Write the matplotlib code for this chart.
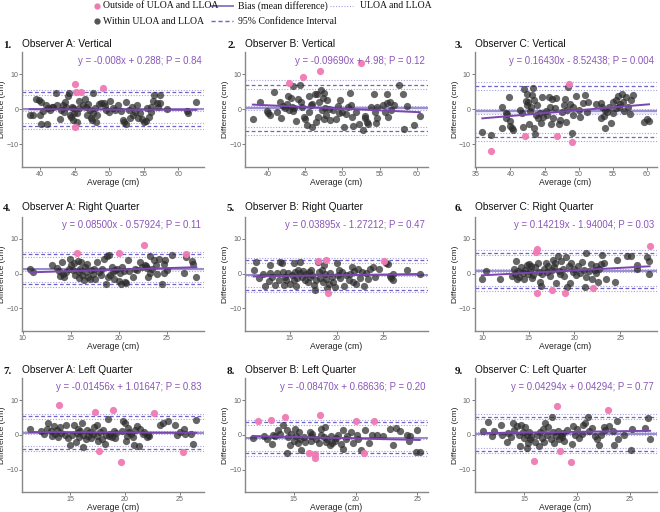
import matplotlib
matplotlib.use("Agg")
import matplotlib.pyplot as plt
from matplotlib.lines import Line2D
import numpy as np

# ---------------- data ----------------
titles = ["Observer A: Vertical", "Observer B: Vertical", "Observer C: Vertical",
          "Observer A: Right Quarter", "Observer B: Right Quarter", "Observer C: Right Quarter",
          "Observer A: Left Quarter", "Observer B: Left Quarter", "Observer C: Left Quarter"]
numbers = ["1.", "2.", "3.", "4.", "5.", "6.", "7.", "8.", "9."]
equations = ["y = -0.008x + 0.288; P = 0.84", "y = -0.09690x + 4.98; P = 0.12",
             "y = 0.16430x - 8.52438; P = 0.004", "y = 0.08500x - 0.57924; P = 0.11",
             "y = 0.03895x - 1.27212; P = 0.47", "y = 0.14219x - 1.94004; P = 0.03",
             "y = -0.01456x + 1.01647; P = 0.83", "y = -0.08470x + 0.68636; P = 0.20",
             "y = 0.04294x + 0.04294; P = 0.77"]
slopes = [-0.008, -0.09690, 0.16430, 0.08500, 0.03895, 0.14219, -0.01456, -0.08470, 0.04294]
intercepts = [0.288, 4.98, -8.52438, -0.57924, -1.27212, -1.94004, 1.01647, 0.68636, 0.04294]
bias = [-0.1, 0.3, -0.65, 1.2, -0.4, 0.85, 0.7, -0.85, 0.35]
bias_ci = [0.5, 0.6, 0.6, 0.45, 0.4, 0.45, 0.45, 0.4, 0.4]
uloa = [4.8, 7.0, 6.6, 5.5, 3.8, 6.0, 5.4, 3.6, 5.2]
lloa = [-4.8, -6.3, -7.9, -3.1, -4.6, -4.3, -4.0, -5.3, -4.5]
loa_ci = [0.8, 1.2, 1.2, 0.75, 0.7, 0.8, 0.75, 0.7, 0.75]

avg_1 = [38.5, 39.0, 39.4, 39.8, 40.0, 40.1, 40.2, 40.5, 40.8, 41.0, 41.1, 41.4, 41.7, 41.9, 42.3, 42.4,
         42.9, 43.1, 43.3, 43.4, 43.6, 43.8, 44.1, 44.2, 44.3, 44.5, 44.6, 44.7, 44.8, 44.9, 45.3, 45.4,
         45.6, 45.7, 46.2, 46.5, 46.6, 46.8, 47.0, 47.2, 47.3, 47.5, 47.6, 47.7, 48.0, 48.1, 48.3, 48.5,
         48.8, 49.2, 49.4, 49.6, 50.0, 50.1, 50.5, 50.8, 51.3, 51.7, 52.0, 52.1, 52.4, 52.5, 52.8, 53.0,
         53.3, 53.5, 53.7, 54.0, 54.2, 54.5, 54.7, 55.0, 55.3, 55.4, 55.8, 56.0, 56.1, 56.3, 56.5, 56.9,
         57.1, 57.3, 57.3, 58.3, 61.2, 61.4, 62.6]
diff_1 = [-1.8, -1.8, 2.8, 2.6, -1.8, 2.1, -4.1, -0.5, 1.1, -4.1, 0.2, -0.3, 0.7, 0.7, 4.7, 1.1,
          -2.7, -0.3, 1.1, -0.8, 2.1, 0.7, 3.7, 4.7, -1.7, -2.2, 0.7, 0.2, -3.1, -1.0, -1.2, -3.6,
          0.2, 2.4, 1.1, 3.0, 0.7, -1.7, 1.6, -0.3, -2.4, -3.0, -1.2, 4.7, 0.2, -3.6, -1.7, 1.6,
          1.8, 1.8, 0.9, -0.3, -0.8, 2.4, 0.2, -0.3, 1.3, -0.5, -3.1, -3.6, -4.1, 2.1, -0.3, -2.4,
          0.7, -1.7, -0.8, 1.1, -2.4, -1.2, -2.7, -3.6, -3.4, 0.2, -2.2, 0.7, -0.8, 2.3, 4.0, 1.8,
          0.7, 4.0, 1.8, 0.0, -0.5, -1.2, 2.1]
out_avg_1 = [45.1, 45.2, 45.1, 45.9, 49.1]
out_diff_1 = [7.3, 4.9, -5.2, 5.0, 5.9]

avg_2 = [38.0, 39.0, 39.9, 40.1, 40.3, 40.9, 41.2, 41.7, 41.8, 42.1, 42.3, 42.6, 42.7, 42.9, 43.1, 43.2,
         43.4, 43.4, 43.5, 43.8, 44.0, 44.3, 44.5, 44.6, 44.9, 45.0, 45.3, 45.5, 45.6, 45.8, 45.9, 46.0,
         46.4, 46.5, 46.6, 46.7, 46.9, 47.1, 47.3, 47.4, 47.5, 47.6, 47.7, 47.8, 48.0, 48.2, 48.4, 48.8,
         49.2, 49.4, 49.5, 49.7, 49.9, 50.2, 50.5, 50.8, 51.1, 51.2, 51.3, 51.5, 51.9, 52.2, 52.8, 53.0,
         53.1, 53.3, 53.4, 53.8, 54.3, 54.4, 54.5, 54.6, 54.7, 55.4, 55.7, 56.0, 56.0, 56.2, 56.4, 56.6,
         56.9, 57.6, 58.1, 58.3, 58.7, 59.6, 60.4]
diff_2 = [-2.7, 2.1, -0.5, -1.2, -1.7, 4.9, -0.8, 2.1, -2.4, 0.8, 0.2, 1.4, 3.7, -0.3, 3.3, 0.7,
          -0.5, 6.6, 0.2, -3.4, 3.0, 6.8, 2.1, 0.7, -2.2, -2.9, -4.5, 3.7, -0.8, 1.1, -5.2, 1.6,
          4.2, -3.6, 4.4, -2.2, 2.1, 5.4, -0.3, 3.3, -2.9, 4.6, 0.2, -1.7, 2.5, -0.1, -3.1, -0.3,
          -2.9, 0.8, -1.2, 2.7, -0.8, -5.0, -1.4, 0.7, 4.6, 1.3, -2.2, -4.8, -0.8, -4.1, -5.9, -2.6,
          -2.0, -3.6, -4.1, 0.7, 4.2, -0.8, -3.9, 0.7, -2.6, 1.1, -0.8, 4.2, 1.8, -2.2, 2.1, -0.3,
          1.1, 7.0, 4.2, -5.8, 1.0, -4.5, -1.9]
out_avg_2 = [42.8, 44.7, 47.0, 52.5]
out_diff_2 = [7.6, 9.1, 10.8, 13.1]

avg_3 = [35.9, 37.1, 38.8, 38.8, 39.3, 39.3, 39.5, 39.8, 39.9, 40.0, 40.2, 40.4, 41.4, 41.7, 41.9, 42.0,
         42.3, 42.4, 42.5, 42.6, 42.8, 42.9, 43.0, 43.1, 43.3, 43.4, 43.5, 43.6, 43.8, 43.9, 44.1, 44.4,
         44.5, 44.6, 44.8, 45.2, 45.4, 45.7, 45.8, 45.9, 46.1, 46.3, 46.6, 46.7, 47.1, 47.2, 47.6, 47.8,
         48.0, 48.2, 48.3, 48.4, 48.7, 49.0, 49.1, 49.2, 49.6, 50.0, 50.2, 50.7, 50.9, 51.2, 51.4, 52.6,
         53.2, 53.3, 53.4, 53.7, 53.8, 53.9, 54.1, 54.4, 54.7, 55.0, 55.1, 55.4, 55.5, 55.7, 55.9, 56.1,
         56.4, 56.5, 56.7, 57.0, 57.2, 57.5, 57.7, 58.0, 59.6, 60.0, 60.3]
diff_3 = [-6.6, -7.4, 0.7, -5.3, -1.2, -2.5, -1.4, 3.5, -4.8, -3.3, -5.5, -5.9, -0.3, -1.2, -5.2, 5.8,
          2.4, 1.1, 4.4, 2.1, -4.1, -0.6, 0.7, 4.0, 6.1, -5.5, 2.5, -7.1, -1.7, 1.1, -2.6, -1.2,
          -3.9, 3.5, -2.2, -0.5, -1.7, 3.5, 0.7, -4.1, 3.0, -2.4, 0.2, 3.3, -4.1, -3.1, -0.8, 1.1,
          3.0, -3.6, -0.3, 6.3, 1.6, -6.9, 0.7, -1.7, 3.7, -0.3, -2.2, 1.8, 4.0, -0.8, 2.1, 1.6,
          -2.4, 1.8, 0.7, -2.0, -5.5, -0.3, -0.8, 0.7, -3.9, 2.1, -1.2, 2.5, 0.2, 3.7, 0.7, 1.6,
          4.4, 2.1, -0.5, 3.5, 0.7, -1.4, 2.5, 4.0, -3.6, -2.9, -3.3]
out_avg_3 = [37.1, 42.2, 46.8, 48.6, 49.0]
out_diff_3 = [-11.9, -7.6, -7.8, 7.1, -9.5]

avg_4 = [10.7, 11.1, 13.0, 13.6, 13.8, 13.9, 14.1, 14.2, 14.3, 14.5, 14.8, 14.9, 15.0, 15.2, 15.3, 15.4,
         15.7, 15.8, 15.9, 16.0, 16.1, 16.2, 16.4, 16.5, 16.6, 16.7, 16.8, 17.0, 17.1, 17.3, 17.4, 17.5,
         17.7, 17.9, 18.1, 18.2, 18.5, 18.7, 18.8, 18.9, 19.0, 19.1, 19.3, 19.4, 19.5, 19.6, 19.8, 20.0,
         20.1, 20.2, 20.3, 20.5, 20.7, 20.8, 21.0, 21.1, 21.5, 21.7, 21.9, 22.2, 22.4, 22.7, 22.8, 22.9,
         23.1, 23.3, 23.3, 23.5, 23.7, 23.9, 24.0, 24.2, 24.5, 24.7, 24.7, 24.8, 25.0, 25.6, 26.8, 27.0,
         27.6, 27.8, 28.1]
diff_4 = [1.4, 0.5, 2.4, 1.7, 0.8, -0.8, 3.3, -0.2, -1.1, 0.5, 1.4, 4.3, 2.4, 1.0, 2.9, -0.5,
          3.5, 0.5, -1.4, 1.4, 3.3, -0.5, -1.9, 1.9, 0.5, 2.6, -1.0, -1.7, 1.0, -0.2, 1.4, -1.7,
          3.3, 0.5, -0.5, 1.4, 4.3, -2.9, 5.0, -1.0, 5.3, -0.5, 1.9, 0.5, -1.7, 1.0, 1.4, -2.2,
          0.2, -2.9, 1.9, 0.8, -2.4, -2.7, 3.8, 0.8, -1.1, 1.4, 1.1, 3.3, 1.9, 2.4, 2.1, 1.7,
          -1.1, 5.0, 0.2, 1.4, 3.8, 2.4, -0.2, 4.3, -2.9, 2.7, 0.2, 4.0, 1.1, 5.4, 0.2, 4.8,
          3.6, 2.7, -1.0]
out_avg_4 = [15.6, 20.0, 22.6, 27.0]
out_diff_4 = [6.0, 5.9, 8.1, 5.7]

avg_5 = [11.1, 11.4, 11.7, 12.1, 12.3, 12.7, 12.9, 12.9, 13.1, 13.4, 13.6, 13.8, 13.9, 14.1, 14.3, 14.4,
         14.5, 14.6, 14.8, 15.0, 15.2, 15.4, 15.4, 15.5, 15.6, 15.8, 15.9, 16.1, 16.1, 16.3, 16.4, 16.6,
         16.7, 16.9, 17.0, 17.1, 17.3, 17.4, 17.6, 17.7, 17.8, 18.0, 18.1, 18.2, 18.4, 18.5, 18.6, 18.8,
         18.9, 19.0, 19.2, 19.3, 19.5, 19.6, 19.8, 20.0, 20.1, 20.3, 20.4, 20.6, 20.8, 21.0, 21.3, 21.4,
         21.6, 21.8, 21.9, 22.1, 22.3, 22.5, 22.7, 22.9, 23.2, 23.4, 23.6, 23.9, 24.1, 24.5, 25.3, 25.5,
         25.7, 25.8, 26.0, 26.1, 27.5, 28.9]
diff_5 = [1.1, 3.3, -1.4, -0.2, -3.6, -2.2, 0.2, 2.4, -1.1, -3.3, 0.2, -1.9, 3.3, 2.9, 0.5, -3.3,
          -1.0, -1.9, 0.2, -2.9, -0.5, 3.0, -1.9, 0.5, -3.6, -1.4, 1.1, 0.2, 3.3, -1.0, 0.7, -1.9,
          -0.2, -2.4, 0.5, -1.0, 1.1, -0.5, -3.3, -4.6, -1.9, 3.3, 0.5, -1.4, 1.0, -2.4, 2.4, -0.2,
          -1.7, -4.1, -2.9, 0.2, -1.0, -2.4, -3.8, 2.9, -0.5, 1.0, -1.4, 0.5, -3.6, -0.5, -1.9, 0.0,
          1.9, -2.4, 0.7, -2.9, 1.4, -1.4, 0.5, -3.6, 0.2, -1.7, 1.4, 1.9, -1.0, 1.4, 3.0, 2.6,
          -0.8, -1.4, -0.2, -1.9, 1.1, -0.2]
out_avg_5 = [18.0, 18.9, 19.1, 25.1]
out_diff_5 = [3.6, 3.8, -5.7, 3.6]

avg_6 = [9.9, 10.3, 11.9, 13.2, 13.4, 13.5, 13.6, 13.7, 13.8, 14.0, 14.2, 14.4, 14.5, 14.6, 14.8, 14.9,
         15.0, 15.1, 15.3, 15.4, 15.5, 15.7, 16.0, 16.1, 16.2, 16.4, 16.5, 16.7, 16.9, 17.0, 17.1, 17.3,
         17.5, 17.7, 17.8, 17.9, 18.0, 18.2, 18.3, 18.4, 18.5, 18.7, 18.9, 19.1, 19.2, 19.4, 19.5, 19.6,
         19.8, 20.0, 20.2, 20.4, 20.6, 20.8, 21.0, 21.2, 21.3, 21.3, 21.6, 21.8, 21.9, 22.2, 22.3, 22.4,
         22.6, 22.7, 22.9, 23.0, 23.2, 23.4, 24.4, 24.6, 25.7, 26.2, 26.8, 26.8, 27.9, 28.1, 28.1]
diff_6 = [-1.7, 0.8, -1.6, -0.8, 1.4, 0.0, 3.5, -1.7, 0.8, -1.0, 1.9, 0.2, -1.7, 1.1, 2.4, -0.2,
          2.7, 0.8, 2.1, -1.4, -0.5, 1.9, 3.0, 0.5, -2.4, -3.6, -0.2, 1.4, 3.0, 0.5, 2.1, -0.8,
          1.0, 4.0, 1.9, 3.0, -2.7, 5.0, 0.8, -0.2, 3.5, 1.4, -0.8, 4.6, -3.8, 2.1, -2.7, 3.0,
          0.5, 1.4, -0.5, 2.1, 0.2, 3.3, 1.1, -4.0, 5.9, -1.1, 0.7, 2.7, -1.7, 1.0, 2.1, 0.2,
          -2.4, 1.4, 2.7, 5.2, 3.0, -1.7, -2.4, 4.0, 5.0, 5.0, 2.4, 1.4, 4.6, 3.5, -0.2]
out_avg_6 = [15.8, 15.9, 15.9, 17.6, 19.0, 22.0, 28.2]
out_diff_6 = [6.2, 7.0, -5.7, -4.6, -5.5, -4.3, 7.8]

avg_7 = [11.3, 12.3, 12.6, 12.9, 13.0, 13.2, 13.3, 13.5, 13.6, 13.8, 13.9, 14.1, 14.2, 14.5, 14.6, 14.8,
         15.0, 15.2, 15.3, 15.5, 15.6, 15.7, 15.8, 15.9, 16.1, 16.2, 16.2, 16.4, 16.5, 16.6, 16.8, 16.9,
         17.1, 17.2, 17.4, 17.4, 17.5, 17.7, 17.9, 18.0, 18.2, 18.3, 18.4, 18.5, 18.6, 18.8, 19.0, 19.1,
         19.2, 19.7, 19.8, 20.0, 20.1, 20.2, 20.3, 20.4, 20.5, 20.7, 20.8, 20.9, 21.1, 21.3, 21.4, 21.6,
         21.7, 22.0, 22.1, 22.2, 23.2, 23.5, 23.9, 24.6, 24.7, 25.0, 25.4, 25.5, 26.0, 26.2, 26.5]
diff_7 = [1.8, 1.2, 0.3, 1.8, 3.4, 1.0, -0.4, 2.5, 0.3, 1.5, -0.7, 2.2, 0.6, -0.1, 2.9, -1.0,
          -2.9, 0.1, 2.9, -2.0, 0.6, 1.8, -0.7, 1.0, 3.4, -3.5, 0.1, -1.3, 1.5, -0.4, 0.8, -0.8,
          0.3, 2.2, 2.9, -0.4, -1.8, 0.8, -1.3, 1.5, -2.5, 0.1, 4.6, -0.4, 0.3, -0.7, 1.0, -0.8,
          0.6, 1.0, 3.9, 3.4, -1.8, -0.4, 2.0, 0.8, 0.3, -0.7, -2.9, 1.5, 2.7, -3.2, 1.8, 0.3,
          0.8, -0.7, 0.1, -0.4, 2.9, 3.4, 3.9, 2.9, -0.1, 0.8, 1.8, 0.3, 0.3, -2.7, 4.3]
out_avg_7 = [14.0, 17.3, 17.6, 18.9, 19.6, 22.6, 25.3]
out_diff_7 = [8.6, 6.5, -4.6, 7.2, -7.7, 6.2, -4.9]

avg_8 = [11.7, 12.6, 12.8, 13.2, 13.3, 13.5, 13.7, 13.9, 14.1, 14.4, 14.4, 14.5, 14.7, 14.8, 15.0, 15.1,
         15.2, 15.3, 15.4, 15.5, 15.6, 15.8, 15.9, 16.3, 16.4, 16.4, 16.5, 16.8, 17.0, 17.2, 17.2, 17.4,
         17.5, 17.6, 17.7, 17.9, 18.0, 18.1, 18.3, 18.4, 18.6, 18.8, 19.0, 19.0, 19.2, 19.3, 19.6, 19.8,
         20.1, 20.2, 20.4, 20.8, 21.1, 21.3, 21.7, 22.2, 22.8, 23.0, 23.3, 23.6, 24.2, 24.3, 24.4, 24.9,
         25.0, 25.2]
diff_8 = [-0.8, -0.4, -1.3, -2.7, 0.1, -0.4, 1.5, 0.3, 2.9, 1.5, -5.1, -0.7, -2.9, 0.3, -1.6, 1.8,
          -0.4, -2.3, 0.8, -1.3, -4.2, -0.7, -2.0, 0.8, -0.4, -1.6, 0.3, -1.3, -2.3, 0.1, 1.8, -0.7,
          2.2, -2.0, -1.3, -2.9, -0.4, -2.3, -1.6, -0.8, -0.1, -2.5, 1.5, -3.9, -1.3, -0.4, 0.8, -2.3,
          -0.1, -1.3, -4.2, 1.5, -2.3, 0.1, 0.1, -0.4, 1.8, -2.9, 2.0, 1.0, 0.1, -1.8, -0.4, -4.8,
          1.5, -4.8]
out_avg_8 = [12.1, 13.1, 14.3, 16.2, 16.7, 16.7, 17.1, 20.0, 20.7, 21.5]
out_diff_8 = [3.9, 4.3, 5.1, -5.3, -5.6, -6.7, 5.8, 3.9, -5.3, 3.9]

avg_9 = [11.1, 11.6, 12.0, 12.2, 12.8, 12.9, 13.4, 13.5, 13.8, 14.0, 14.1, 14.3, 14.5, 14.6, 14.7, 14.9,
         15.0, 15.1, 15.3, 15.3, 15.4, 15.5, 15.6, 15.7, 16.0, 16.2, 16.4, 16.5, 16.7, 16.8, 16.9, 17.0,
         17.2, 17.3, 17.5, 17.6, 17.7, 17.8, 18.0, 18.2, 18.3, 18.5, 18.6, 18.7, 18.8, 19.1, 19.5, 19.6,
         19.8, 20.0, 20.2, 20.5, 20.6, 20.8, 21.0, 21.1, 21.4, 21.7, 21.9, 22.1, 22.3, 22.5, 22.6, 23.0,
         23.4, 23.5, 23.8, 23.9, 24.4, 25.1, 25.2, 26.4, 26.7, 26.9]
diff_9 = [1.2, 3.6, -0.2, 1.0, 2.9, 0.1, -2.0, 0.6, -0.7, 3.4, 1.5, 2.5, 0.1, -3.2, 2.9, 0.8,
          -0.8, 2.2, 0.1, -3.7, -2.3, 0.8, -1.3, -0.7, -2.0, 0.1, -3.2, 0.8, -0.8, 1.8, -2.0, 3.4,
          0.1, 2.2, -1.3, 5.2, 0.8, -2.3, -0.4, 1.2, -1.3, 0.1, -0.7, 0.6, -1.8, 1.5, -2.7, 2.7,
          0.1, 1.8, -0.8, 0.3, 2.9, 3.4, 5.2, 1.2, 2.0, -0.4, -1.3, -2.9, 0.1, 2.2, 1.5, 2.5,
          1.0, -2.9, 3.9, -1.3, 0.1, -4.3, 1.8, 2.0, 4.8, -1.3]
out_avg_9 = [15.9, 18.1, 18.4, 19.4, 22.9]
out_diff_9 = [-7.6, 8.4, -4.6, -7.9, 7.2]

avgs = [avg_1, avg_2, avg_3, avg_4, avg_5, avg_6, avg_7, avg_8, avg_9]
diffs = [diff_1, diff_2, diff_3, diff_4, diff_5, diff_6, diff_7, diff_8, diff_9]
out_avgs = [out_avg_1, out_avg_2, out_avg_3, out_avg_4, out_avg_5, out_avg_6, out_avg_7, out_avg_8, out_avg_9]
out_diffs = [out_diff_1, out_diff_2, out_diff_3, out_diff_4, out_diff_5, out_diff_6, out_diff_7, out_diff_8, out_diff_9]

xlims = [(37.4, 63.7), (36.95, 61.5), (34.75, 61.4), (9.9, 28.9), (10.18, 29.8), (9.1, 28.95),
         (10.6, 27.2), (11.03, 25.87), (10.33, 27.5)]
xticks = [[40, 45, 50, 55, 60], [40, 45, 50, 55, 60], [35, 40, 45, 50, 55, 60], [10, 15, 20, 25],
          [15, 20, 25], [10, 15, 20, 25], [15, 20, 25], [15, 20, 25], [15, 20, 25]]

# ---------------- layout ----------------
W, H = 660, 512
fig = plt.figure(figsize=(W / 100, H / 100), dpi=100)
col_left = [22, 245, 474.5]
col_w = [182, 183, 182]
row_top = [52, 216.7, 378.3]
row_h = [115, 114.3, 114]
num_x = [3, 227, 455]
title_y = [44, 207, 370]

PINK = "#f07ab3"
DARK = "#2b2b2b"
PURPLE = "#7b46ad"
BIAS_C = "#8c7fc8"
DASH_C = "#6f62c9"
DOT_C = "#a7a2dc"
EQ_C = "#8a55b8"
SANS = "Liberation Sans"

for i in range(9):
    r, c = divmod(i, 3)
    left = col_left[c]
    top = row_top[r]
    ax = fig.add_axes([left / W, 1 - (top + row_h[r]) / H, col_w[c] / W, row_h[r] / H])
    ax.set_xlim(*xlims[i])
    ax.set_ylim(-16.5, 16.3)
    # bias CI band
    ax.axhspan(bias[i] - bias_ci[i], bias[i] + bias_ci[i], color="#dcdaf2", alpha=0.6, lw=0, zorder=1)
    for v in (bias[i] - bias_ci[i], bias[i] + bias_ci[i],
              uloa[i] - loa_ci[i], uloa[i] + loa_ci[i],
              lloa[i] - loa_ci[i], lloa[i] + loa_ci[i]):
        ax.axhline(v, color=DOT_C, lw=0.8, ls=(0, (1, 1.5)), zorder=1)
    for v in (uloa[i], lloa[i]):
        ax.axhline(v, color=DASH_C, lw=0.9, ls=(0, (3, 2)), zorder=1)
    ax.axhline(bias[i], color=BIAS_C, lw=1.2, zorder=1)
    ax.scatter(avgs[i], diffs[i], s=27, color=DARK, alpha=0.72, lw=0, zorder=3)
    ax.scatter(out_avgs[i], out_diffs[i], s=27, color=PINK, alpha=0.95, lw=0, zorder=3)
    xs = np.array([min(avgs[i] + out_avgs[i]), max(avgs[i] + out_avgs[i])])
    ax.plot(xs, slopes[i] * xs + intercepts[i], color=PURPLE, lw=1.4, zorder=4)
    ax.text(0.985, 0.925, equations[i], transform=ax.transAxes, ha="right", va="center",
            fontsize=6.9, color=EQ_C, family=SANS)
    ax.set_xticks(xticks[i])
    ax.set_yticks([-10, 0, 10])
    ax.tick_params(labelsize=5.1, colors="#666666", length=2, width=0.6, pad=0.6)
    for lab in ax.get_xticklabels() + ax.get_yticklabels():
        lab.set_family(SANS)
    for s in ("top", "right"):
        ax.spines[s].set_visible(False)
    for s in ("left", "bottom"):
        ax.spines[s].set_color("#888888")
        ax.spines[s].set_linewidth(1.0)
    ax.set_xlabel("Average (cm)", fontsize=6.2, family=SANS, labelpad=0, color="#222222")
    ax.set_ylabel("Difference (cm)", fontsize=6.0, family=SANS, labelpad=0, color="#222222")
    ax.set_facecolor("white")
    # titles
    fig.text(left / W, 1 - title_y[r] / H, titles[i], fontsize=7.3, family=SANS,
             ha="left", va="center", color="#111111")
    fig.text(num_x[c] / W, 1 - (title_y[r] + 1.5) / H, numbers[i], fontsize=8, family="Liberation Serif",
             weight="bold", ha="left", va="center", color="#111111")

# ---------------- legend ----------------
def fx(px):
    return px / W

def fy(py):
    return 1 - py / H

leg_font = dict(fontsize=7.0, family="Liberation Serif", va="center", ha="left", color="#111111")
fig.add_artist(Line2D([fx(97)], [fy(6)], marker="o", ms=3.5, color=PINK, lw=0, transform=fig.transFigure))
fig.text(fx(103), fy(6), "Outside of ULOA and LLOA", **leg_font)
fig.add_artist(Line2D([fx(97)], [fy(21)], marker="o", ms=3.5, color="#555555", lw=0, transform=fig.transFigure))
fig.text(fx(103), fy(21), "Within ULOA and LLOA", **leg_font)
fig.add_artist(Line2D([fx(211), fx(233)], [fy(6), fy(6)], color=BIAS_C, lw=1.4, transform=fig.transFigure))
fig.text(fx(238), fy(6), "Bias (mean difference)", **leg_font)
fig.add_artist(Line2D([fx(330), fx(353)], [fy(6), fy(6)], color=DOT_C, lw=0.8, ls=(0, (1, 1.5)),
                      transform=fig.transFigure))
fig.text(fx(360), fy(6), "ULOA and LLOA", **leg_font)
fig.add_artist(Line2D([fx(211), fx(233)], [fy(21), fy(21)], color=DASH_C, lw=1.0, ls=(0, (3, 2)),
                      transform=fig.transFigure))
fig.text(fx(238), fy(21), "95% Confidence Interval", **leg_font)

fig.savefig("out.png", dpi=100, facecolor="white")
